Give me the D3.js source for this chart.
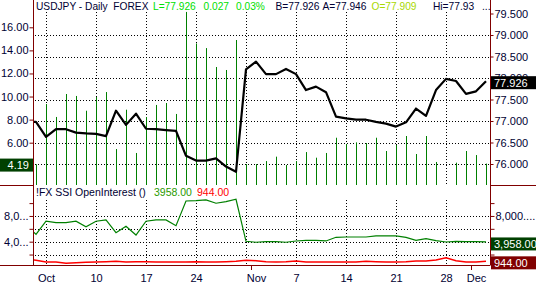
<!DOCTYPE html>
<html><head><meta charset="utf-8">
<script src="https://cdn.jsdelivr.net/npm/d3@7"></script>
<style>
body{margin:0;background:#fff}
svg{display:block;font-family:"Liberation Sans",Arial,sans-serif}
</style>
</head><body>
<svg id="c" width="536" height="284"></svg>
<script>
// ---------- DATA ----------
const dates = ["2011-09-29","2011-09-30",
"2011-10-03","2011-10-04","2011-10-05","2011-10-06","2011-10-07",
"2011-10-10","2011-10-11","2011-10-12","2011-10-13","2011-10-14",
"2011-10-17","2011-10-18","2011-10-19","2011-10-20","2011-10-21",
"2011-10-24","2011-10-25","2011-10-26","2011-10-27","2011-10-28",
"2011-10-31","2011-11-01","2011-11-02","2011-11-03","2011-11-04",
"2011-11-07","2011-11-08","2011-11-09","2011-11-10","2011-11-11",
"2011-11-14","2011-11-15","2011-11-16","2011-11-17","2011-11-18",
"2011-11-21","2011-11-22","2011-11-23","2011-11-24","2011-11-25",
"2011-11-28","2011-11-29","2011-11-30","2011-12-01","2011-12-02"];

const price = [76.98,76.98,
76.63,76.81,76.81,76.73,76.71,
76.70,76.65,77.24,76.91,77.17,
76.82,76.81,76.79,76.77,76.19,
76.08,76.08,76.13,75.94,75.82,
78.20,78.38,78.09,78.09,78.21,
78.09,77.72,77.80,77.67,77.10,
77.06,77.03,77.03,76.98,76.94,
76.87,76.97,77.29,77.12,77.72,
77.98,77.93,77.63,77.69,77.926];

const volume = [null,4.13,
9.35,8.23,10.22,10.05,8.77,
9.96,10.39,5.45,8.86,5.11,
8.23,9.27,9.44,8.49,17.33,
14.60,14.20,12.56,12.30,14.90,
4.15,4.15,4.41,4.79,4.07,
4.41,5.19,4.70,5.11,6.43,
5.89,6.03,5.97,6.43,5.28,
5.80,6.58,5.02,6.58,4.33,
null,4.27,5.28,4.93,4.19];

const oiGreen = [6500,5150,
7180,6960,6960,7180,6330,
7180,7380,5400,6400,5040,
7180,7380,7380,6490,10330,
10380,10490,9980,10230,10600,
4060,3910,4000,4000,3910,
4110,4210,4210,4110,4680,
4730,4730,4730,4890,4890,
4890,4680,4210,4470,4160,
3950,4060,4000,4000,3958];

const oiRed = [1300,1100,
840,840,640,740,790,
840,890,950,840,890,
890,840,840,840,840,
890,840,840,890,950,
1100,1050,890,840,890,
1000,840,840,840,840,
840,840,950,890,840,
840,890,1000,1000,1150,
1510,1050,840,840,944];

const priceTicks = [76,76.5,77,77.5,78,78.5,79,79.5];
const priceGrid = [76,76.5,77,77.5,78,78.5,79];
const volTicks = [6,8,10,12,14,16];
const oiTicks = [2000,4000,6000,8000,10000];
const oiGrid = [2000,4000,6000,8000];
const gridDates = ["2011-10-03","2011-10-10","2011-10-17","2011-10-24","2011-10-31","2011-11-07","2011-11-14","2011-11-21","2011-11-28"];
const xTickDates = ["2011-10-03","2011-10-10","2011-10-17","2011-10-24","2011-11-01","2011-11-07","2011-11-14","2011-11-21","2011-11-28","2011-12-01"];
const xTickLabels = ["Oct","10","17","24","Nov","7","14","21","28","Dec"];
const monthBreaks = ["2011-10-31","2011-11-30"];

const lastPrice = 77.926, lastVol = 4.19, lastGreen = 3958, lastRed = 944;

// ---------- CHART ----------
const svg = d3.select("#c");
const AX = "#800000", TXT = "#000033";
const L = 33, R = 490, T0 = 0, T1 = 185, B0 = 186, B1 = 265;
const idx = d => dates.indexOf(d);

const x = d3.scaleLinear().domain([0, dates.length-1]).range([26, 486]);
const yP = d3.scaleLinear().domain([76, 79]).range([164, 35]);
const yV = d3.scaleLinear().domain([6, 16]).range([142.7, 27.3]);
const yO = d3.scaleLinear().domain([0, 10000]).range([267.4, 203.1]);

const defs = svg.append("defs");
defs.append("clipPath").attr("id","ct").append("rect").attr("x",L+1).attr("y",T0).attr("width",R-L-1).attr("height",T1-T0);
defs.append("clipPath").attr("id","cb").append("rect").attr("x",L+1).attr("y",B0).attr("width",R-L-1).attr("height",B1-B0);

// grid
const grid = svg.append("g").attr("stroke","#000").attr("stroke-width",1).attr("stroke-dasharray","1,2");
grid.selectAll(".hp").data(priceGrid).join("line").attr("class","hp")
  .attr("x1",L+2).attr("x2",R).attr("y1",d=>Math.round(yP(d))+0.5).attr("y2",d=>Math.round(yP(d))+0.5);
grid.selectAll(".vt").data(gridDates).join("line").attr("class","vt")
  .attr("x1",d=>x(idx(d))+0.5).attr("x2",d=>x(idx(d))+0.5).attr("y1",12).attr("y2",T1);
grid.selectAll(".ho").data(oiGrid).join("line").attr("class","ho")
  .attr("x1",L+2).attr("x2",R).attr("y1",d=>Math.round(yO(d))+0.5).attr("y2",d=>Math.round(yO(d))+0.5);
grid.selectAll(".vb").data(gridDates).join("line").attr("class","vb")
  .attr("x1",d=>x(idx(d))+0.5).attr("x2",d=>x(idx(d))+0.5).attr("y1",200).attr("y2",B1);

// volume bars
const topPanel = svg.append("g").attr("clip-path","url(#ct)");
topPanel.selectAll(".bar").data(volume.map((v,i)=>({v,i})).filter(d=>d.v!=null)).join("line").attr("class","bar")
  .attr("stroke","#008000").attr("stroke-width",1)
  .attr("x1",d=>x(d.i)+0.5).attr("x2",d=>x(d.i)+0.5)
  .attr("y1",T1).attr("y2",d=>yV(d.v));

// price line
topPanel.append("path").datum(price)
  .attr("fill","none").attr("stroke","#000").attr("stroke-width",2.2).attr("stroke-linejoin","round")
  .attr("d", d3.line().x((d,i)=>x(i)).y(d=>yP(d)));

// bottom lines
const botPanel = svg.append("g").attr("clip-path","url(#cb)");
botPanel.append("path").datum(oiGreen).attr("fill","none").attr("stroke","#008000").attr("stroke-width",1.2)
  .attr("d", d3.line().x((d,i)=>x(i)).y(d=>yO(d)));
botPanel.append("path").datum(oiRed).attr("fill","none").attr("stroke","#ff0000").attr("stroke-width",1.5)
  .attr("d", d3.line().x((d,i)=>x(i)).y(d=>yO(d)));

// axis frame lines
const frame = svg.append("g").attr("stroke",AX).attr("stroke-width",1);
frame.append("line").attr("x1",L+0.5).attr("x2",L+0.5).attr("y1",0).attr("y2",B1+0.5);
frame.append("line").attr("x1",R+0.5).attr("x2",R+0.5).attr("y1",0).attr("y2",B1+0.5);
frame.append("line").attr("x1",0).attr("x2",L).attr("y1",T1+0.5).attr("y2",T1+0.5);
frame.append("line").attr("x1",R).attr("x2",536).attr("y1",T1+0.5).attr("y2",T1+0.5);
frame.append("line").attr("x1",0).attr("x2",R).attr("y1",B1+0.5).attr("y2",B1+0.5);

function styleAxis(g){
  g.select(".domain").remove();
  g.selectAll(".tick line").attr("stroke",AX);
  g.selectAll(".tick text").attr("fill",TXT).attr("font-size",11).attr("font-family","Liberation Sans, Arial, sans-serif");
}

// right price axis (78.000 sits partly behind the last-price box, as in the source)
svg.append("g").attr("transform",`translate(${R+0.5},0)`)
  .call(d3.axisRight(yP).tickValues(priceTicks).tickFormat(d3.format(".3f")).tickSize(3).tickPadding(1))
  .call(styleAxis);

// left volume axis
svg.append("g").attr("transform",`translate(${L+0.5},0)`)
  .call(d3.axisLeft(yV).tickValues(volTicks).tickFormat(d3.format(".2f")).tickSize(4).tickPadding(1))
  .call(styleAxis);

// bottom OI axes
const shortFmt = d => d3.format(",")(d).slice(0,3) + "...";
svg.append("g").attr("transform",`translate(${L+0.5},0)`)
  .call(d3.axisLeft(yO).tickValues(oiTicks).tickFormat(d => (d===4000||d===8000) ? shortFmt(d) : "").tickSize(4).tickPadding(1))
  .call(styleAxis);
svg.append("g").attr("transform",`translate(${R+0.5},0)`)
  .call(d3.axisRight(yO).tickValues(oiTicks).tickFormat(d => d===8000 ? d3.format(",")(d)+"...." : "").tickSize(4).tickPadding(1))
  .call(styleAxis);

// x axis
svg.append("g").attr("transform",`translate(0,${B1+0.5})`)
  .call(d3.axisBottom(x).tickValues(xTickDates.map(idx)).tickFormat((d,i)=>xTickLabels[i]).tickSize(0).tickPadding(9))
  .call(styleAxis);
svg.append("g").selectAll("line").data(monthBreaks).join("line")
  .attr("stroke",AX).attr("x1",d=>Math.round(x(idx(d)+0.5))+0.5).attr("x2",d=>Math.round(x(idx(d)+0.5))+0.5).attr("y1",B1).attr("y2",B1+5);

// value boxes
function box(xb, yc, w, fill, label, anchor){
  const g = svg.append("g");
  g.append("rect").attr("x",xb).attr("y",yc-6.5).attr("width",w).attr("height",13).attr("fill",fill);
  g.append("text").attr("x", anchor==="end" ? xb+w-4 : xb+3).attr("y",yc).attr("dy","0.35em")
    .attr("text-anchor",anchor).attr("fill","#fff").attr("font-size",11).text(label);
}
box(491, yP(lastPrice)+1.5, 45, "#000", d3.format(".3f")(lastPrice), "start");
box(0, yV(lastVol)+1.5, 33, "#004000", d3.format(".2f")(lastVol), "end");
box(491, yO(lastGreen)+2, 45, "#004000", d3.format(",.2f")(lastGreen), "start");
box(491, yO(lastRed)+1.5, 45, "#800000", d3.format(",.2f")(lastRed), "start");

// header
const hdr = [
  ["USDJPY - Daily  FOREX", 36, TXT],
  ["L=77.926", 153, "#00e000"],
  ["0.027", 203.5, "#00e000"],
  ["0.03%", 236, "#00e000"],
  ["B=77.926", 275.5, TXT],
  ["A=77.946", 322.5, TXT],
  ["O=77.909", 371.5, "#a8d800"],
  ["Hi=77.93", 433, TXT],
  ["...", 482, TXT]
];
svg.append("g").selectAll("text").data(hdr).join("text")
  .attr("x",d=>d[1]).attr("y",9.5).attr("fill",d=>d[2]).attr("font-size",10.2)
  .style("white-space","pre").text(d=>d[0]);

const sub = [
  ["!FX SSI OpenInterest ()", 36, TXT],
  [d3.format(".2f")(lastGreen), 154, "#2a9a00"],
  [d3.format(".2f")(lastRed), 197, "#ff0000"]
];
svg.append("g").selectAll("text").data(sub).join("text")
  .attr("x",d=>d[1]).attr("y",196).attr("fill",d=>d[2]).attr("font-size",10.5)
  .style("white-space","pre").text(d=>d[0]);
</script>
</body></html>
